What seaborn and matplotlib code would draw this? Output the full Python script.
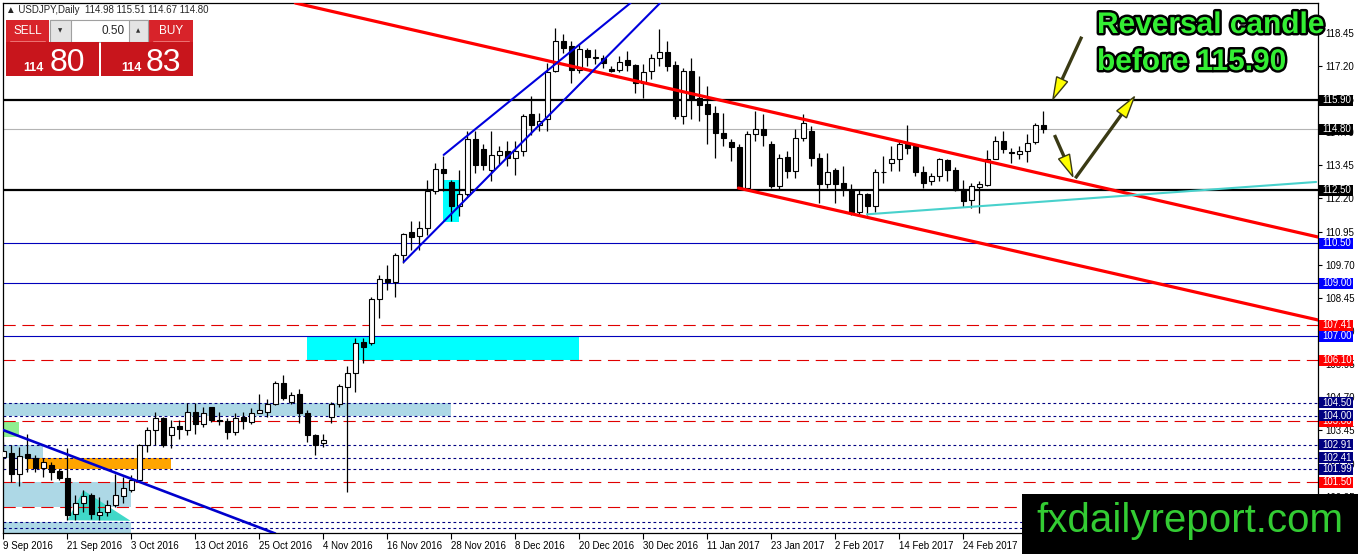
import numpy as np
import pandas as pd
import matplotlib
matplotlib.use("Agg")
import matplotlib.pyplot as plt
import matplotlib.patheffects as pe
from matplotlib.patches import Rectangle, Polygon
import seaborn as sns

# daily USDJPY candles, 9 Sep 2016 .. 10 Mar 2017
opens = [102.43, 102.60, 101.82, 102.55, 102.39, 102.05, 102.14, 101.92, 101.67, 100.31,
         100.71, 101.00, 100.25, 100.37, 100.62, 100.96, 101.22, 101.57, 102.89, 103.46,
         103.90, 103.28, 103.61, 103.46, 104.15, 103.69, 104.32, 103.86, 103.81, 103.40,
         103.96, 103.77, 104.11, 104.15, 104.44, 105.24, 104.53, 104.82, 104.11, 103.27,
         102.96, 103.96, 104.44, 105.10, 105.63, 106.80, 106.76, 108.40, 109.17, 109.03,
         110.07, 110.92, 110.77, 111.09, 112.47, 113.32, 112.81, 111.90, 112.37, 114.43,
         114.05, 113.27, 113.82, 113.99, 113.73, 113.99, 115.40, 114.95, 115.18, 117.01,
         118.14, 117.93, 117.05, 117.80, 117.50, 117.51, 117.07, 117.05, 117.41, 117.22,
         116.57, 117.01, 117.48, 117.73, 117.22, 115.31, 117.01, 116.00, 115.75, 115.43,
         114.68, 114.33, 114.15, 112.60, 114.62, 114.83, 114.24, 112.66, 113.77, 113.23,
         114.49, 114.74, 113.73, 112.76, 113.27, 112.79, 112.51, 111.68, 112.35, 111.90,
         113.19, 113.54, 113.70, 114.24, 114.17, 113.19, 112.85, 113.04, 113.64, 113.29,
         112.56, 112.13, 112.64, 112.72, 113.69, 114.36, 113.95, 113.86, 113.98, 114.32,
         114.98]
highs = [103.02, 102.89, 102.83, 103.33, 102.51, 102.39, 102.26, 102.01, 102.77, 101.00,
         101.19, 101.07, 100.94, 100.81, 101.82, 101.70, 101.76, 102.95, 103.59, 104.15,
         103.96, 103.84, 103.84, 104.47, 104.47, 104.34, 104.34, 104.15, 103.90, 104.09,
         104.15, 104.28, 104.84, 104.62, 105.32, 105.53, 104.90, 105.03, 104.22, 103.33,
         103.33, 104.53, 105.19, 105.86, 106.93, 106.93, 108.50, 109.32, 109.70, 110.14,
         110.90, 111.34, 111.34, 112.91, 113.52, 113.80, 112.91, 113.29, 114.74, 114.74,
         114.24, 114.74, 114.17, 114.36, 114.36, 115.37, 116.06, 115.43, 117.32, 118.61,
         118.39, 118.14, 118.02, 117.89, 117.85, 117.60, 117.20, 117.58, 117.76, 117.26,
         117.26, 117.64, 118.58, 118.14, 117.39, 117.13, 117.48, 116.82, 116.44, 115.69,
         115.43, 114.43, 114.24, 114.74, 115.50, 115.37, 114.36, 113.86, 113.98, 114.83,
         115.37, 114.93, 113.92, 113.92, 113.36, 113.42, 112.76, 112.56, 112.41, 113.32,
         113.79, 114.17, 114.36, 114.96, 114.24, 113.42, 113.17, 113.73, 113.70, 113.39,
         112.91, 112.79, 112.85, 114.02, 114.55, 114.74, 114.11, 114.17, 114.62, 115.06,
         115.51]
lows = [101.97, 101.51, 101.34, 101.88, 101.88, 101.70, 101.57, 101.57, 100.06, 100.06,
        100.37, 100.12, 100.06, 100.21, 100.56, 100.71, 101.13, 101.57, 102.64, 102.89,
        102.83, 102.77, 103.14, 103.27, 103.33, 103.59, 103.77, 103.65, 103.14, 103.27,
        103.52, 103.71, 104.09, 103.96, 104.40, 104.59, 104.46, 103.74, 103.02, 102.51,
        102.83, 103.74, 104.34, 101.13, 104.91, 105.98, 106.67, 107.68, 108.75, 108.50,
        109.76, 110.27, 110.27, 110.83, 112.35, 112.47, 111.34, 111.53, 112.28, 113.17,
        113.29, 112.85, 113.48, 113.42, 113.10, 113.79, 114.61, 114.74, 114.74, 116.97,
        117.70, 116.57, 116.92, 117.20, 117.26, 117.13, 116.97, 116.97, 117.01, 116.19,
        116.00, 116.69, 117.20, 117.01, 115.18, 114.99, 115.18, 115.12, 114.24, 113.73,
        114.17, 113.61, 112.54, 112.54, 114.36, 114.17, 112.60, 112.54, 112.98, 112.98,
        114.36, 113.42, 112.03, 112.60, 112.03, 112.28, 111.59, 111.59, 111.59, 111.68,
        112.79, 113.23, 113.23, 113.86, 113.04, 112.60, 112.72, 112.85, 112.85, 112.49,
        111.88, 111.84, 111.65, 112.66, 113.67, 113.92, 113.54, 113.67, 113.57, 114.24,
        114.67]
closes = [102.68, 101.82, 102.50, 102.39, 102.04, 102.26, 101.88, 101.67, 100.25, 100.71,
          100.96, 100.31, 100.37, 100.62, 101.00, 101.29, 101.57, 102.89, 103.46, 103.90,
          102.89, 103.56, 103.49, 104.15, 103.69, 104.11, 103.86, 103.81, 103.40, 103.90,
          103.81, 104.11, 104.21, 104.44, 105.22, 104.69, 104.78, 104.11, 103.27, 102.89,
          103.08, 104.44, 105.12, 105.62, 106.76, 106.61, 108.40, 109.16, 109.03, 110.07,
          110.87, 110.75, 111.09, 112.47, 113.32, 113.14, 111.90, 112.35, 114.43, 113.45,
          113.45, 113.82, 113.99, 113.73, 113.99, 115.31, 114.95, 115.12, 116.97, 118.14,
          117.89, 117.05, 117.83, 117.55, 117.53, 117.30, 117.01, 117.36, 117.22, 116.57,
          116.95, 117.51, 117.73, 117.20, 115.31, 117.01, 115.96, 115.71, 115.37, 114.68,
          114.49, 114.15, 112.60, 114.62, 114.83, 114.58, 112.66, 113.73, 113.23, 114.49,
          115.06, 113.73, 112.76, 113.19, 112.76, 112.60, 111.68, 112.35, 111.90, 113.20,
          113.21, 113.70, 114.24, 114.11, 113.19, 112.79, 113.04, 113.67, 113.27, 112.51,
          112.09, 112.66, 112.75, 113.69, 114.36, 114.05, 113.90, 113.98, 114.30, 114.96,
          114.80]

date_labels = ["9 Sep 2016", "21 Sep 2016", "3 Oct 2016", "13 Oct 2016", "25 Oct 2016",
               "4 Nov 2016", "16 Nov 2016", "28 Nov 2016", "8 Dec 2016", "20 Dec 2016",
               "30 Dec 2016", "11 Jan 2017", "23 Jan 2017", "2 Feb 2017", "14 Feb 2017",
               "24 Feb 2017"]
bars_per_label = 8

price_ticks = [118.45, 117.20, 115.95, 114.70, 113.45, 112.20, 110.95, 109.70,
               108.45, 107.20, 105.95, 104.70, 103.45, 102.20, 100.95, 99.70]

black_levels = [115.90, 112.50]
bid_level = 114.80
blue_levels = [110.50, 109.00, 107.00]
red_levels = [107.41, 106.10, 103.80, 101.50, 100.55]
navy_levels = [104.50, 104.00, 102.91, 102.41, 101.99, 100.00, 99.75]

# price tags on the right scale (later ones sit on top)
tag_values = [115.90, 114.80, 112.50, 110.50, 109.00, 107.41, 107.00, 106.10,
              104.50, 103.80, 104.00, 102.91, 102.41, 101.99, 101.50]
tag_colors = ["black", "black", "black", "#0000ff", "#0000ff", "#ff0000", "#0000ff", "#ff0000",
              "#000080", "#ff0000", "#000080", "#000080", "#000080", "#000080", "#ff0000"]

# zones: bar from, bar to, price low, price high, colour
zone_x0 = [0, 0, 2.96, 0, 0, 0, 38, 55.0]
zone_x1 = [56, 5, 20.96, 1.9, 15.9, 15.9, 71.9, 57.0]
zone_lo = [104.00, 102.41, 101.99, 103.21, 100.55, 99.0, 106.10, 111.30]
zone_hi = [104.50, 102.91, 102.41, 103.77, 101.50, 100.00, 107.00, 112.91]
zone_col = ["#add8e6", "#add8e6", "#ffa500", "#90ee90", "#add8e6", "#add8e6", "#00ffff", "#00ffff"]

triangle_bar = [8.0, 10.0, 15.9]
triangle_price = [100.06, 101.19, 100.04]

# trend lines: start bar, start price, end bar, end price
line_x0 = [36.5, 91.9, 55.04, 50.04, 0.0, 107.96]
line_y0 = [119.57, 112.59, 113.84, 109.80, 103.46, 111.60]
line_x1 = [164.4, 164.4, 78.4, 82.1, 34.0, 164.1]
line_y1 = [110.74, 107.61, 119.57, 119.57, 99.56, 112.82]
line_col = ["#ff0000", "#ff0000", "#0000dd", "#0000dd", "#0000cc", "#48d1cc"]
line_w = [2.3, 2.3, 1.5, 1.5, 1.9, 1.5]

# arrows: (tail bar, tail price) -> (tip bar, tip price)
arrow_tail = [(134.8, 118.30), (134.0, 112.96), (131.4, 114.59)]
arrow_tip = [(131.2, 115.94), (141.4, 116.04), (133.7, 113.02)]

W, H = 1358, 554
sns.set_style("white")
plt.rcParams["font.family"] = ["Liberation Sans", "DejaVu Sans"]

fig = plt.figure(figsize=(W / 100, H / 100), dpi=100)
ax = fig.add_axes([3 / W, (H - 533) / H, 1315 / W, 530 / H])
ax.set_xlim(-0.04, 1315 / 8 - 0.04)
ax.set_ylim(99.58, 119.57)

# zones and the triangle
for x0, x1, lo, hi, c in zip(zone_x0, zone_x1, zone_lo, zone_hi, zone_col):
    ax.add_patch(Rectangle((x0, lo), x1 - x0, hi - lo, fc=c, ec="none", zorder=1))
ax.add_patch(Polygon(list(zip(triangle_bar, triangle_price)), fc="#40d8c8", ec="none", zorder=1))

# horizontal levels
for v in black_levels:
    ax.axhline(v, color="black", lw=1.6, zorder=2)
ax.axhline(bid_level, color="#b4b4b4", lw=0.8, zorder=2)
for v in blue_levels:
    ax.axhline(v, color="#0000bb", lw=0.8, zorder=2)
for v in red_levels:
    ax.axhline(v, color="#e00000", lw=0.8, dashes=(11, 6), zorder=2)
for v in navy_levels:
    ax.axhline(v, color="#000080", lw=0.8, dashes=(2.5, 2.5), zorder=2)

# candles
df = pd.DataFrame({"o": opens, "h": highs, "l": lows, "c": closes})
df["bar"] = np.arange(len(df))
df["lo"] = df[["o", "c"]].min(axis=1)
df["size"] = (df.c - df.o).abs().clip(lower=0.02)
up = df.c >= df.o
ax.vlines(df.bar, df.l, df.h, color="black", lw=0.9, zorder=3)
ax.bar(df.bar[up], df["size"][up], bottom=df.lo[up], width=0.62,
       color="white", edgecolor="black", lw=0.8, zorder=4)
ax.bar(df.bar[~up], df["size"][~up], bottom=df.lo[~up], width=0.62,
       color="black", edgecolor="black", lw=0.8, zorder=4)

# trend lines
for x0, y0, x1, y1, c, w in zip(line_x0, line_y0, line_x1, line_y1, line_col, line_w):
    sns.lineplot(x=[x0, x1], y=[y0, y1], color=c, lw=w, ax=ax, zorder=5)

# axes look
ax.set_xlabel("")
ax.set_ylabel("")
for s in ax.spines.values():
    s.set_color("black")
    s.set_linewidth(0.9)
ax.yaxis.tick_right()
ax.set_yticks(price_ticks)
ax.set_yticklabels([f"{v:.2f}" for v in price_ticks], fontsize=7)
ax.tick_params(axis="y", right=True, length=3, width=0.8, pad=2, colors="black")
ax.set_xticks([i * bars_per_label for i in range(len(date_labels))])
ax.set_xticklabels(date_labels, fontsize=7, ha="left")
ax.tick_params(axis="x", bottom=True, length=4, width=0.8, pad=2, colors="black")

# overlay in pixel units for tags, widget, texts and arrows
ov = fig.add_axes([0, 0, 1, 1], zorder=5)
ov.set_xlim(0, W)
ov.set_ylim(H, 0)
ov.axis("off")
ov.patch.set_alpha(0)

to_px = lambda p: ov.transData.inverted().transform(ax.transData.transform(p))

for i, (v, c) in enumerate(zip(tag_values, tag_colors)):
    y = to_px((0, v))[1]
    ov.add_patch(Rectangle((1319, y - 5.5), 34, 11, fc=c, ec="none", zorder=10 + 2 * i))
    ov.text(1322, y, f"{v:.2f}", fontsize=7, color="white", ha="left", va="center",
            zorder=11 + 2 * i)

for tail, tip in zip(arrow_tail, arrow_tip):
    a, b = to_px(tail), to_px(tip)
    d = (b - a) / np.hypot(*(b - a))
    n = np.array([-d[1], d[0]])
    base = b - 22 * d
    ov.plot([a[0], base[0]], [a[1], base[1]], color="#3a3a14", lw=2.4, solid_capstyle="butt")
    ov.add_patch(Polygon([b, base + 6 * n, base - 6 * n], closed=True,
                         fc="#ffff00", ec="#3a3a14", lw=1.0))

outline = [pe.withStroke(linewidth=3.5, foreground="black")]
ov.text(1097, 25, "Reversal candle", fontsize=21.5, fontweight="bold", color="#33ee33",
        ha="left", va="center", path_effects=outline)
ov.text(1097, 62, "before 115.90", fontsize=21.5, fontweight="bold", color="#33ee33",
        ha="left", va="center", path_effects=outline)

# logo
ov.add_patch(Rectangle((1022, 494), 336, 60, fc="black", ec="none", zorder=50))
ov.text(1190, 521, "fxdailyreport.com", fontsize=29, color="#33cc33", ha="center", va="center",
        zorder=51)

# one-click trading widget
ov.text(6, 10, "\u25b2 USDJPY,Daily  114.98 115.51 114.67 114.80", fontsize=7, ha="left", va="center")
ov.add_patch(Rectangle((6, 20), 43, 22, fc="#d8232a", ec="none"))
ov.add_patch(Rectangle((149, 20), 44, 22, fc="#d8232a", ec="none"))
ov.add_patch(Rectangle((50, 20), 98, 22, fc="white", ec="#a0a0a0", lw=0.8))
ov.add_patch(Rectangle((50, 20), 21, 22, fc="#e4e4e4", ec="#a0a0a0", lw=0.8))
ov.add_patch(Rectangle((129, 20), 19, 22, fc="#e4e4e4", ec="#a0a0a0", lw=0.8))
ov.text(60.5, 31, "\u25bc", fontsize=4, ha="center", va="center", color="#333333", family="DejaVu Sans")
ov.text(138.5, 31, "\u25b2", fontsize=4, ha="center", va="center", color="#333333", family="DejaVu Sans")
ov.text(125, 31, "0.50", fontsize=8.5, ha="right", va="center")
ov.text(27.5, 31, "SELL", fontsize=8.5, ha="center", va="center", color="white")
ov.text(171, 31, "BUY", fontsize=8.5, ha="center", va="center", color="white")
ov.plot([10, 45], [41, 41], color="#f08080", lw=0.6)
ov.plot([153, 189], [41, 41], color="#f08080", lw=0.6)
ov.add_patch(Rectangle((6, 42), 93, 34, fc="#c8151c", ec="none"))
ov.add_patch(Rectangle((101, 42), 92, 34, fc="#c8151c", ec="none"))
ov.text(44, 71, "114", fontsize=9, fontweight="bold", ha="right", va="baseline", color="white")
ov.text(50, 71, "80", fontsize=23, ha="left", va="baseline", color="white")
ov.text(142, 71, "114", fontsize=9, fontweight="bold", ha="right", va="baseline", color="white")
ov.text(146, 71, "83", fontsize=23, ha="left", va="baseline", color="white")

fig.savefig("out.png", dpi=100, facecolor="white")
